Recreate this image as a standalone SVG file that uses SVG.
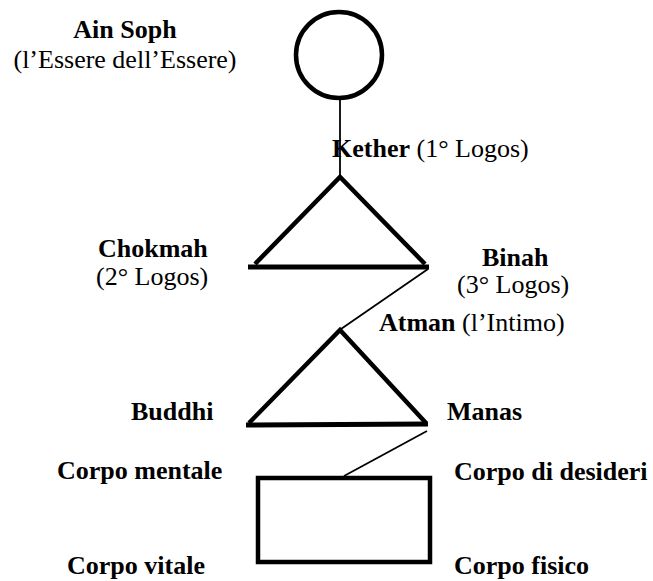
<svg xmlns="http://www.w3.org/2000/svg" width="653" height="581" viewBox="0 0 653 581">
<style>
text { font-size: 26px; fill: #000; }
.b { font-weight: bold; }
.shape { fill: none; stroke: #000; stroke-width: 4.5; }
.base { stroke: #000; stroke-width: 5; }
.conn { stroke: #000; stroke-width: 1.8; fill: none; }
</style>
<rect width="653" height="581" fill="#fff"/>
<g id="connectors">
<line class="conn" x1="340" y1="99" x2="340" y2="177"/>
<line class="conn" x1="428" y1="269" x2="341" y2="329"/>
<line class="conn" x1="427" y1="431" x2="344" y2="476"/>
</g>
<g font-family="Liberation Serif, Times New Roman, serif">
<g id="ain-soph">
<circle class="shape" cx="339" cy="55" r="43" stroke-width="4"/>
<text class="b" x="125" y="38" text-anchor="middle">Ain Soph</text>
<text x="125" y="68" text-anchor="middle">(l’Essere dell’Essere)</text>
</g>
<g id="triangle-1">
<polyline class="shape" points="255,264 340,177 425,264"/>
<line class="base" x1="248" y1="267" x2="429" y2="267"/>
<text x="332" y="157"><tspan class="b">Kether</tspan> (1° Logos)</text>
<text class="b" x="98" y="257">Chokmah</text>
<text x="96" y="285">(2° Logos)</text>
<text class="b" x="482" y="266">Binah</text>
<text x="457" y="293">(3° Logos)</text>
</g>
<g id="triangle-2">
<polyline class="shape" points="249,423 340,330 426,423"/>
<line class="base" x1="246" y1="425" x2="428" y2="424"/>
<text x="379" y="331"><tspan class="b">Atman</tspan> (l’Intimo)</text>
<text class="b" x="131" y="420">Buddhi</text>
<text class="b" x="447" y="420">Manas</text>
</g>
<g id="bodies">
<rect class="shape" x="258" y="478" width="172" height="84"/>
<text class="b" x="57" y="479">Corpo mentale</text>
<text class="b" x="454" y="480">Corpo di desideri</text>
<text class="b" x="67" y="574">Corpo vitale</text>
<text class="b" x="454" y="574">Corpo fisico</text>
</g>
</g>
</svg>
